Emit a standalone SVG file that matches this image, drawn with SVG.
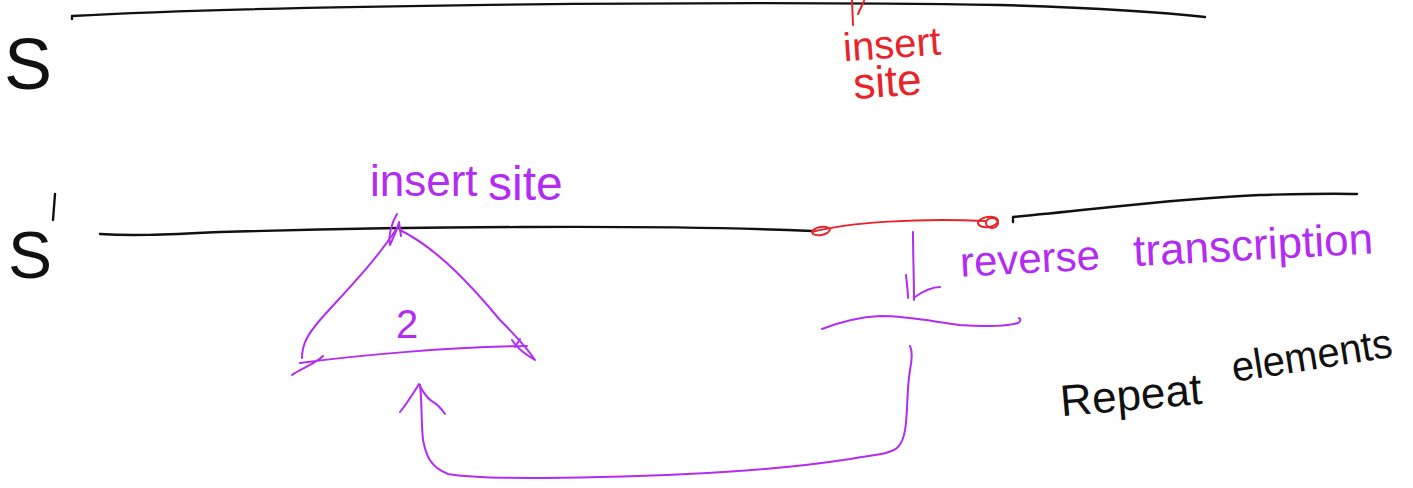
<svg xmlns="http://www.w3.org/2000/svg" width="1413" height="488" viewBox="0 0 1413 488">
  <style>
    .ink { fill: none; stroke-linecap: round; stroke-linejoin: round; }
    .k { stroke: #111; stroke-width: 2.4; }
    .r { stroke: #e8232a; stroke-width: 2; }
    .p { stroke: #b22cf2; stroke-width: 2; }
    .t { font-family: "Liberation Sans", "DejaVu Sans", sans-serif; }
    .tk { fill: #111; }
    .tr { fill: #e8232a; }
    .tp { fill: #b22cf2; }
  </style>
  <rect width="1413" height="488" fill="#fff"/>

  <!-- strand S -->
  <g id="strand-S">
    <text class="t tk" x="4" y="89" font-size="72">S</text>
    <path class="ink k" d="M72,19 L72,16 C250,6 700,0 1000,5 C1100,8 1170,13 1205,17"/>
  </g>

  <!-- insert site on S -->
  <g id="insert-site-S">
    <path class="ink r" d="M852,0 L853,25 M864,1 L858,14"/>
    <text class="t tr" x="843" y="58" font-size="40" transform="rotate(-4 890 45)">insert</text>
    <text class="t tr" x="853" y="96" font-size="44" transform="rotate(-4 895 80)">site</text>
  </g>

  <!-- strand S' -->
  <g id="strand-S-prime">
    <text class="t tk" x="8" y="278" font-size="66">S</text>
    <path class="ink k" d="M55,194 L53,220"/>
    <path class="ink k" d="M100,234 C130,236 160,235 220,232 C400,227 650,224 812,231"/>
    <path class="ink r" d="M812,232 C850,222 920,218 985,221"/>
    <ellipse class="ink r" cx="821" cy="231" rx="9" ry="4" transform="rotate(-10 821 231)"/>
    <ellipse class="ink r" cx="988" cy="222" rx="10" ry="5" transform="rotate(-8 988 222)"/>
    <ellipse class="ink r" cx="992" cy="223" rx="6" ry="5"/>
    <path class="ink k" d="M1013,222 L1013,217 C1100,209 1180,198 1260,195 C1300,194 1330,193 1357,194"/>
  </g>

  <!-- insert site on S' -->
  <g id="insert-site-S-prime">
    <text class="t tp" x="370" y="196" font-size="44">insert</text>
    <text class="t tp" x="488" y="200" font-size="48">site</text>
  </g>

  <!-- inserted element (triangle) -->
  <g id="insert-element">
    <path class="ink p" d="M397,214 C392,222 388,236 390,245 C393,238 398,228 399,222 L401,236"/>
    <path class="ink p" d="M397,228 C375,262 345,292 320,320 C310,332 302,342 302,358"/>
    <path class="ink p" d="M400,230 C440,250 475,290 500,320 C512,332 525,345 535,360 C528,356 518,350 512,340"/>
    <path class="ink p" d="M300,363 C360,355 450,347 527,346 M292,375 C300,369 315,364 323,356 M520,339 L515,347"/>
    <text class="t tp" x="396" y="338" font-size="40">2</text>
  </g>

  <!-- reverse transcription -->
  <g id="reverse-transcription">
    <text class="t tp" x="960" y="273" font-size="42" transform="rotate(-3 1030 260)">reverse</text>
    <text class="t tp" x="1133" y="260" font-size="44" textLength="240" lengthAdjust="spacingAndGlyphs" transform="rotate(-3 1250 245)">transcription</text>
    <path class="ink p" d="M822,329 C840,322 860,317 880,316 C910,316 935,322 960,325 C985,327 1010,326 1018,323 C1021,321 1021,319 1019,318"/>
  </g>

  <!-- repeat elements label -->
  <g id="repeat-elements">
    <text class="t tk" x="1060" y="411" font-size="44" transform="rotate(-5 1120 395)">Repeat</text>
    <text class="t tk" x="1234" y="382" font-size="42" textLength="162" lengthAdjust="spacingAndGlyphs" transform="rotate(-9 1234 382)">elements</text>
  </g>

  <!-- connectors -->
  <g id="connectors">
    <!-- reverse transcription arrow -->
    <path class="ink p" d="M913,232 C913,255 914,278 914,300 M906,275 C907,285 908,292 908,298 M915,297 C925,290 933,287 940,287"/>
    <!-- reintegration loop back to insert site -->
    <path class="ink p" d="M910,346 C913,352 912,360 910,370 C905,400 910,435 898,447 C890,455 870,455 850,459 C780,470 700,475 600,477 C520,479 470,478 448,474 C430,467 426,455 423,440 C421,420 422,400 420,385"/>
    <path class="ink p" d="M400,412 C408,402 414,392 419,384 C423,393 427,398 433,402 C439,405 442,410 445,414"/>
  </g>
</svg>
